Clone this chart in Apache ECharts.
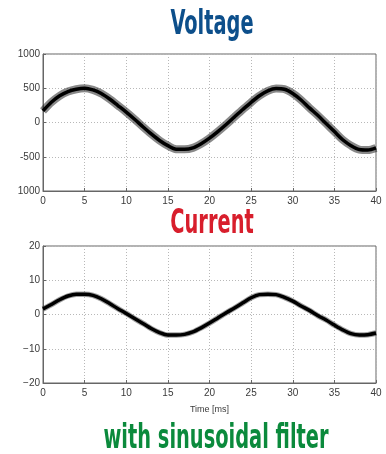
<!DOCTYPE html>
<html>
<head>
<meta charset="utf-8">
<script src="https://cdn.jsdelivr.net/npm/echarts@6/dist/echarts.min.js"></script>
<style>
  html, body { margin: 0; padding: 0; background: #fff; }
  #chart { width: 386px; height: 454px; }
</style>
</head>
<body>
<div id="chart"></div>
<script>
// time axis, ms
var timeMs = [0, 1, 2, 3, 4, 5, 6, 7, 8, 9, 10, 11, 12, 13, 14, 15, 16, 17, 18, 19, 20,
              21, 22, 23, 24, 25, 26, 27, 28, 29, 30, 31, 32, 33, 34, 35, 36, 37, 38, 39, 40];
// voltage (centre of the noisy band), V
var voltage = [170, 295, 390, 452, 486, 500, 476, 424, 343, 248, 152, 48, -62, -167, -262, -338,
               -390, -392, -371, -310, -229, -133, -29, 81, 190, 295, 390, 462, 495, 486, 424,
               329, 214, 105, -14, -133, -252, -338, -395, -402, -371];
// current, A
var current = [1.6, 2.9, 4.3, 5.4, 5.9, 5.9, 5.6, 4.6, 3.2, 1.7, 0.3, -1.2, -2.6, -4.1, -5.3, -6.0,
               -6.0, -5.8, -5.1, -3.9, -2.5, -1.0, 0.5, 1.9, 3.4, 4.9, 5.8, 5.9, 5.8, 5.0, 3.9,
               2.5, 1.2, -0.3, -1.6, -3.1, -4.5, -5.6, -6.0, -5.9, -5.4];

var voltageTicks = {'1000': '1000', '500': '500', '0': '0', '-500': '-500', '-1000': '1000'};
var currentTicks = {'20': '20', '10': '10', '0': '0', '-10': '\u221210', '-20': '\u221220'};

function pairs(ys) {
    var out = [];
    for (var i = 0; i < timeMs.length; i++) {
        out.push([timeMs[i], ys[i]]);
    }
    return out;
}

var labelStyle = { color: '#3a3a3a', fontSize: 10, fontFamily: 'Liberation Sans, Arial, sans-serif' };
var gridLine = { show: true, lineStyle: { color: '#b8b8b8', type: [1, 2], width: 1 } };

function xAxisCfg(gridIndex, margin, name) {
    return {
        type: 'value', gridIndex: gridIndex, min: 0, max: 40, interval: 5,
        axisLine: { show: true, onZero: false, lineStyle: { color: '#666' } },
        axisTick: { show: true, inside: true, length: 3, lineStyle: { color: '#666' } },
        axisLabel: Object.assign({ margin: margin }, labelStyle),
        splitLine: gridLine,
        name: name || '', nameLocation: 'middle', nameGap: 22,
        nameTextStyle: { color: '#3a3a3a', fontSize: 9, fontFamily: 'Liberation Sans, Arial, sans-serif' }
    };
}

function yAxisCfg(gridIndex, min, max, interval, map) {
    return {
        type: 'value', gridIndex: gridIndex, min: min, max: max, interval: interval,
        axisLine: { show: true, onZero: false, lineStyle: { color: '#666' } },
        axisTick: { show: true, inside: true, length: 3, lineStyle: { color: '#666' } },
        axisLabel: Object.assign({ margin: 3, formatter: function (v) { return map[String(v)]; } }, labelStyle),
        splitLine: gridLine
    };
}

// condensed bold headline, squeezed to the width of the original type
function titleText(text, x, y, color) {
    return {
        type: 'text', x: x, y: y, scaleX: 0.77, scaleY: 1.2,
        style: {
            text: text, x: 0, y: 0, fill: color,
            font: 'bold 28px "Liberation Sans Narrow", "DejaVu Sans Condensed", sans-serif',
            textAlign: 'center', textVerticalAlign: 'middle'
        }
    };
}

var chart = echarts.init(document.getElementById('chart'), null, { renderer: 'canvas' });

var option = {
    animation: false,
    backgroundColor: '#fff',
    grid: [
        { left: 43, top: 54, width: 333, height: 137, show: true, borderColor: '#666', borderWidth: 1 },
        { left: 43, top: 246, width: 333, height: 137, show: true, borderColor: '#666', borderWidth: 1 }
    ],
    xAxis: [
        xAxisCfg(0, 5),
        xAxisCfg(1, 5, 'Time [ms]')
    ],
    yAxis: [
        yAxisCfg(0, -1000, 1000, 500, voltageTicks),
        yAxisCfg(1, -20, 20, 10, currentTicks)
    ],
    graphic: [
        titleText('Voltage', 212, 25, '#0d4f8b'),
        titleText('Current', 212, 224, '#d81e2c'),
        titleText('with sinusoidal filter', 216, 439, '#0b8a3c')
    ],
    series: [
        // the noisy band around the voltage
        {
            type: 'line', xAxisIndex: 0, yAxisIndex: 0, data: pairs(voltage),
            smooth: 0.3, showSymbol: false,
            lineStyle: { color: 'rgba(20,20,20,0.5)', width: 8 }
        },
        {
            type: 'line', xAxisIndex: 0, yAxisIndex: 0, data: pairs(voltage),
            smooth: 0.3, showSymbol: false,
            lineStyle: { color: '#000', width: 3.5 }
        },
        {
            type: 'line', xAxisIndex: 1, yAxisIndex: 1, data: pairs(current),
            smooth: 0.3, showSymbol: false,
            lineStyle: { color: 'rgba(20,20,20,0.4)', width: 5.5 }
        },
        {
            type: 'line', xAxisIndex: 1, yAxisIndex: 1, data: pairs(current),
            smooth: 0.3, showSymbol: false,
            lineStyle: { color: '#000', width: 3.5 }
        }
    ]
};

chart.setOption(option);
</script>
</body>
</html>
